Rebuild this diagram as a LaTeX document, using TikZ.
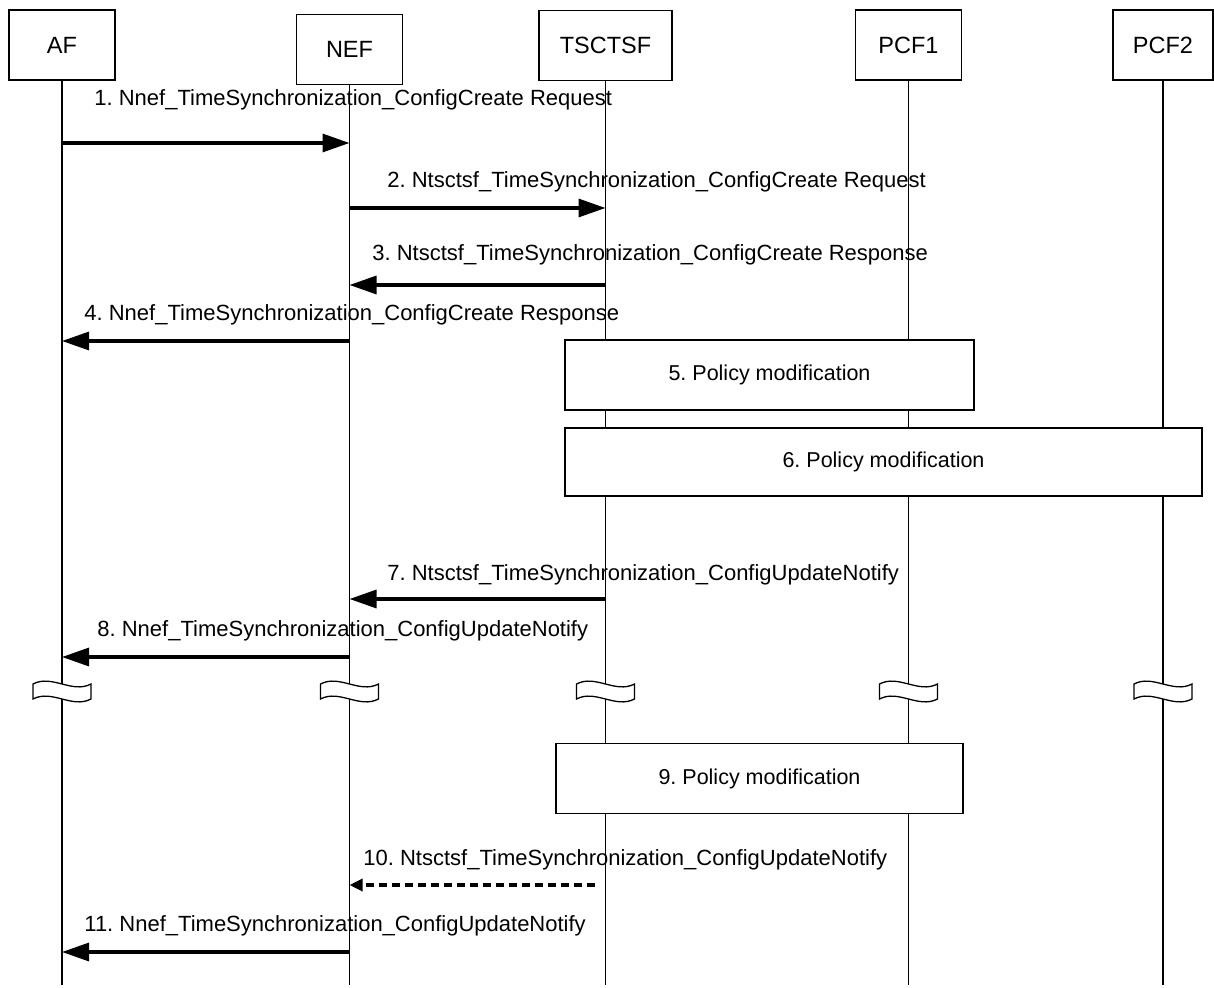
\documentclass[tikz,border=0pt]{standalone}
\usepackage{fontspec}
\setmainfont{Liberation Sans}
\usetikzlibrary{arrows.meta}
\frenchspacing

\tikzset{
  lifebreak/.pic={
    \filldraw[fill=white, line width=0.65pt] (-29,-7) .. controls (-10,-17) and (10,3) .. (29,-7)
      -- (29,8) .. controls (10,18) and (-10,-2) .. (-29,8) -- cycle;
  }
}

\begin{document}
\begin{tikzpicture}[x=0.5pt, y=-0.5pt,
	nf/.style={draw, line width=0.65pt, minimum width=53pt, minimum height=35pt, font=\fontsize{11.75}{14}\selectfont},
	life/.style={line width=0.65pt},
	msg/.style={line width=1.6pt, -{Triangle[length=13.5pt,width=9pt]}},
	dmsg/.style={line width=1.6pt, dash pattern=on 4pt off 2.5pt, -{Triangle[length=6.5pt,width=6pt]}},
	lbl/.style={anchor=base west, inner sep=0pt, font=\fontsize{11}{13}\selectfont},
	act/.style={draw, fill=white, line width=0.65pt, minimum height=35pt, font=\fontsize{10.75}{13}\selectfont}]
	\useasboundingbox (0,0) rectangle (1214,988);

	% network functions and lifelines
	\node[nf] (af) at (62,45) {AF};
	\node[nf] (nef) at (349.5,49.5) {NEF};
	\node[nf, minimum width=66.5pt] (tsctsf) at (605.5,45.5) {TSCTSF};
	\node[nf] (pcf1) at (908.5,45) {PCF1};
	\node[nf, minimum width=50pt] (pcf2) at (1163,45) {PCF2};
	\coordinate (bot) at (0,985);
	\foreach \n in {af,nef,tsctsf,pcf1,pcf2}
		\draw[life] (\n.south) -- (\n.south |- bot);

	% config create
	\coordinate (m1) at (0,143);
	\draw[msg] (af |- m1) -- (nef |- m1);
	\node[lbl] (l1) at (94,106) {1. Nnef\_TimeSynchronization\_ConfigCreate Request};
	\coordinate (m2) at (0,208);
	\draw[msg] (nef |- m2) -- (tsctsf |- m2);
	\node[lbl] (l2) at (387,188) {2. Ntsctsf\_TimeSynchronization\_ConfigCreate Request};
	\coordinate (m3) at (0,285);
	\draw[msg] (tsctsf |- m3) -- (nef |- m3);
	\node[lbl] (l3) at (372,261) {3. Ntsctsf\_TimeSynchronization\_ConfigCreate Response};
	\coordinate (m4) at (0,341);
	\draw[msg] (nef |- m4) -- (af |- m4);
	\node[lbl] (l4) at (84,321) {4. Nnef\_TimeSynchronization\_ConfigCreate Response};

	% policy
	\node[act, minimum width=204.5pt] (p5) at (769.5,375) {5. Policy modification};
	\node[act, minimum width=318.5pt, minimum height=34pt] (p6) at (883.5,462) {6. Policy modification};

	% update notify
	\coordinate (m7) at (0,599);
	\draw[msg] (tsctsf |- m7) -- (nef |- m7);
	\node[lbl] (l7) at (387,580) {7. Ntsctsf\_TimeSynchronization\_ConfigUpdateNotify};
	\coordinate (m8) at (0,657);
	\draw[msg] (nef |- m8) -- (af |- m8);
	\node[lbl] (l8) at (97,636) {8. Nnef\_TimeSynchronization\_ConfigUpdateNotify};

	% time gap
	\coordinate (cut) at (0,691);
	\foreach \n in {af,nef,tsctsf,pcf1,pcf2}
		\pic at (\n |- cut) {lifebreak};

	\node[act, minimum width=203.5pt] (p9) at (759.5,778.5) {9. Policy modification};
	\coordinate (m10) at (0,885);
	\coordinate (d10) at (595,885);
	\draw[dmsg] (d10) -- (nef |- m10);
	\node[lbl] (l10) at (363,865) {10. Ntsctsf\_TimeSynchronization\_ConfigUpdateNotify};
	\coordinate (m11) at (0,952);
	\draw[msg] (nef |- m11) -- (af |- m11);
	\node[lbl] (l11) at (84,931) {11. Nnef\_TimeSynchronization\_ConfigUpdateNotify};
\end{tikzpicture}
\end{document}
